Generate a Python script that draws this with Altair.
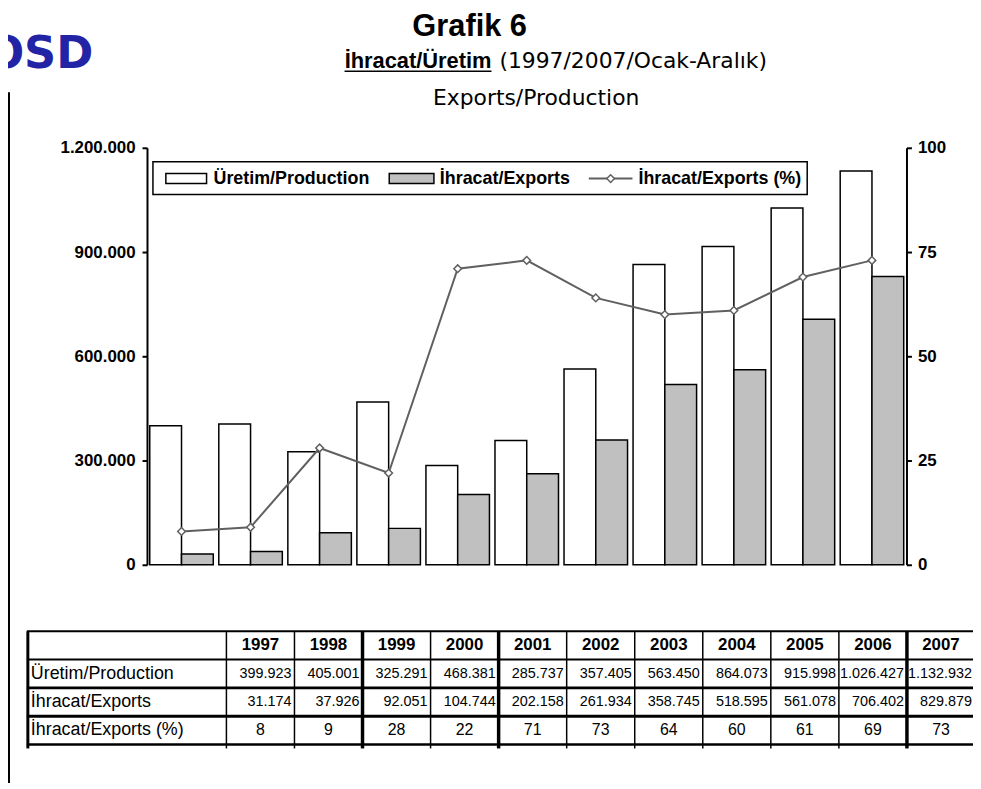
import altair as alt
import pandas as pd

# ---------------- data ----------------
years = ["1997", "1998", "1999", "2000", "2001", "2002", "2003", "2004", "2005", "2006", "2007"]
production = [399923, 405001, 325291, 468381, 285737, 357405, 563450, 864073, 915998, 1026427, 1132932]
exports = [31174, 37926, 92051, 104744, 202158, 261934, 358745, 518595, 561078, 706402, 829879]
export_pct = [8, 9, 28, 22, 71, 73, 64, 60, 61, 69, 73]

series_prod = "Üretim/Production"
series_exp = "İhracat/Exports"
series_pct = "İhracat/Exports (%)"

title_text = "Grafik 6"
subtitle_bold = "İhracat/Üretim"
subtitle_rest = "(1997/2007/Ocak-Aralık)"
subtitle2 = "Exports/Production"
logo_text = "OSD"

left_ticks = [0, 300000, 600000, 900000, 1200000]
right_ticks = [0, 25, 50, 75, 100]

# ---------------- layout ----------------
W, H = 765, 420
OX, OY = 148, 146          # page position of the plot origin


def px(v):
    return v - OX


def py(v):
    return v - OY


def fmt(v):
    return f"{v:,}".replace(",", ".")


AX_FONT = "Liberation Sans"
TB_FONT = "Liberation Sans"

# ---------------- main chart ----------------
bars_df = pd.DataFrame({
    "year": years + years,
    "series": [series_prod] * len(years) + [series_exp] * len(years),
    "value": production + exports,
})
pct_df = pd.DataFrame({"year": years, "pct": export_pct})

x_scale = alt.Scale(domain=years, paddingInner=0.08, paddingOuter=0.04)

axis_style = dict(
    title=None, grid=False, tickSize=5, tickWidth=2, domainWidth=2,
    domainColor="black", tickColor="black", labelColor="black",
    labelFont=AX_FONT, labelFontWeight="bold", labelFontSize=17,
)

bars = alt.Chart(bars_df).mark_bar(stroke="black", strokeWidth=1.5).encode(
    x=alt.X("year:O", scale=x_scale,
            axis=alt.Axis(orient="bottom", labelAngle=0, tickBand="extent",
                          labelPadding=7, **{**axis_style, "tickSize": 6, "labelFontSize": 16})),
    xOffset=alt.XOffset("series:N", sort=[series_prod, series_exp],
                        scale=alt.Scale(domain=[series_prod, series_exp])),
    y=alt.Y("value:Q", scale=alt.Scale(domain=[0, 1200000], nice=False),
            axis=alt.Axis(orient="left", values=left_ticks, labelPadding=7,
                          labelExpr="replace(replace(format(datum.value, ','), ',', '.'), ',', '.')",
                          **axis_style)),
    fill=alt.Fill("series:N", scale=alt.Scale(domain=[series_prod, series_exp],
                                              range=["white", "#c0c0c0"]), legend=None),
)

line = alt.Chart(pct_df).mark_line(color="#606060", strokeWidth=2).encode(
    x=alt.X("year:O", scale=x_scale, axis=None),
    y=alt.Y("pct:Q", scale=alt.Scale(domain=[0, 100], nice=False),
            axis=alt.Axis(orient="right", values=right_ticks, labelPadding=6, **axis_style)),
)
points = alt.Chart(pct_df).mark_point(shape="diamond", filled=True, fill="white",
                                      stroke="#606060", strokeWidth=1.5, size=60,
                                      opacity=1).encode(
    x=alt.X("year:O", scale=x_scale, axis=None),
    y=alt.Y("pct:Q", scale=alt.Scale(domain=[0, 100], nice=False), axis=None),
)

main = alt.layer(bars, line, points).resolve_scale(y="independent")

# ---------------- legend (drawn by hand) ----------------
one = pd.DataFrame({"k": [0]})
leg_box = alt.Chart(one).mark_rect(fill="white", stroke="black", strokeWidth=1.5).encode(
    x=alt.value(6), x2=alt.value(665), y=alt.value(14), y2=alt.value(47))
leg_sw1 = alt.Chart(one).mark_rect(fill="white", stroke="black", strokeWidth=1.5).encode(
    x=alt.value(19), x2=alt.value(60), y=alt.value(26), y2=alt.value(36))
leg_sw2 = alt.Chart(one).mark_rect(fill="#c0c0c0", stroke="black", strokeWidth=1.5).encode(
    x=alt.value(244), x2=alt.value(289), y=alt.value(26), y2=alt.value(36))
leg_ln = alt.Chart(one).mark_rule(color="#606060", strokeWidth=2).encode(
    x=alt.value(445), x2=alt.value(489), y=alt.value(31))
leg_pt = alt.Chart(one).mark_point(shape="diamond", filled=True, fill="white", stroke="#606060",
                                   strokeWidth=1.5, size=60, opacity=1).encode(
    x=alt.value(467), y=alt.value(31))


def leg_text(label, x):
    return alt.Chart(pd.DataFrame({"t": [label]})).mark_text(
        align="left", baseline="middle", font=AX_FONT, fontWeight="bold",
        fontSize=18, color="black").encode(text="t:N", x=alt.value(x), y=alt.value(31))


legend = [leg_box, leg_sw1, leg_sw2, leg_ln, leg_pt,
          leg_text(series_prod, 67), leg_text(series_exp, 295), leg_text(series_pct, 495)]

# ---------------- table ----------------
row_keys = ["hdr", series_prod, series_exp, series_pct]
T_LEFT, T_RIGHT = px(228), px(982)
col_w = (T_RIGHT - T_LEFT) / len(years)
tx = alt.Scale(domain=years, range=[T_LEFT, T_RIGHT], paddingInner=0, paddingOuter=0)
ty = alt.Scale(domain=row_keys, range=[py(633), py(747)], paddingInner=0, paddingOuter=0)

cells = []
for i, yr in enumerate(years):
    cells.append({"year": yr, "row": "hdr", "text": yr})
    cells.append({"year": yr, "row": series_prod, "text": fmt(production[i])})
    cells.append({"year": yr, "row": series_exp, "text": fmt(exports[i])})
    cells.append({"year": yr, "row": series_pct, "text": str(export_pct[i])})
cells_df = pd.DataFrame(cells)

hdr_txt = alt.Chart(cells_df).transform_filter(alt.datum.row == "hdr").mark_text(
    font=TB_FONT, fontWeight="bold", fontSize=17, color="black", baseline="middle").encode(
    x=alt.X("year:O", scale=tx, axis=None), y=alt.Y("row:N", scale=ty, axis=None), text="text:N")
num_txt = alt.Chart(cells_df).transform_filter(
    alt.FieldOneOfPredicate(field="row", oneOf=[series_prod, series_exp])).mark_text(
    font=TB_FONT, fontSize=14.5, color="black", align="right", baseline="middle",
    dx=col_w / 2 - 3).encode(
    x=alt.X("year:O", scale=tx, axis=None),
    y=alt.Y("row:N", scale=ty, axis=None), text="text:N")
pct_txt = alt.Chart(cells_df).transform_filter(alt.datum.row == series_pct).mark_text(
    font=TB_FONT, fontSize=16, color="black", baseline="middle").encode(
    x=alt.X("year:O", scale=tx, axis=None), y=alt.Y("row:N", scale=ty, axis=None), text="text:N")

lab_df = pd.DataFrame({"row": row_keys[1:]})
lab_txt = alt.Chart(lab_df).mark_text(
    font=TB_FONT, fontSize=18, color="black", align="left", baseline="middle").encode(
    x=alt.value(px(31)), y=alt.Y("row:N", scale=ty, axis=None), text="row:N")

hl_df = pd.DataFrame({"row": row_keys})
h_rules = alt.Chart(hl_df).mark_rule(color="black").encode(
    y=alt.Y("row:N", scale=ty, axis=None, bandPosition=0),
    x=alt.value(px(27)), x2=alt.value(px(990)),
    strokeWidth=alt.condition(
        alt.FieldOneOfPredicate(field="row", oneOf=[series_exp, series_pct]),
        alt.value(3), alt.value(2)),
)
h_bottom = alt.Chart(hl_df).transform_filter(alt.datum.row == series_pct).mark_rule(
    color="black", strokeWidth=2.5).encode(
    y=alt.Y("row:N", scale=ty, axis=None, bandPosition=1),
    x=alt.value(px(27)), x2=alt.value(px(990)))

vl_df = pd.DataFrame({"year": years})
v_rules = alt.Chart(vl_df).mark_rule(color="black").encode(
    x=alt.X("year:O", scale=tx, axis=None, bandPosition=0),
    y=alt.value(py(633)), y2=alt.value(py(751)),
    strokeWidth=alt.condition(
        alt.FieldOneOfPredicate(field="year", oneOf=["1999", "2001", "2007"]),
        alt.value(3.5), alt.value(1.5)),
)
v_left = alt.Chart(one).mark_rule(color="black", strokeWidth=3).encode(
    x=alt.value(px(28)), y=alt.value(py(633)), y2=alt.value(py(751)))

table = [h_rules, h_bottom, v_rules, v_left, hdr_txt, num_txt, pct_txt, lab_txt]

# ---------------- headings, logo, page rule ----------------


def txt(label, x, y, font, size, weight="normal", align="center", color="black"):
    return alt.Chart(pd.DataFrame({"t": [label]})).mark_text(
        align=align, baseline="alphabetic", font=font, fontSize=size,
        fontWeight=weight, color=color).encode(text="t:N", x=alt.value(x), y=alt.value(y))


heads = [
    txt(title_text, px(473), py(33), "Liberation Sans", 31, "bold"),
    txt(subtitle_bold, px(495), py(66), "Liberation Sans", 22, "bold", align="right"),
    txt(subtitle_rest, px(503), py(66), "DejaVu Sans", 22, align="left"),
    txt(subtitle2, px(540), py(103), "DejaVu Sans", 22),
    txt(logo_text, px(-14), py(66), "DejaVu Sans", 45, "bold", align="left", color="#2323a6"),
    alt.Chart(one).mark_rule(color="black", strokeWidth=1.5).encode(
        x=alt.value(px(347)), x2=alt.value(px(495)), y=alt.value(py(69))),
    alt.Chart(one).mark_rule(color="black", strokeWidth=2).encode(
        x=alt.value(px(9)), y=alt.value(py(90)), y2=alt.value(py(800))),
]

chart = alt.layer(main, *legend, *table, *heads).resolve_scale(
    x="independent", y="independent"
).properties(
    width=W, height=H,
    padding={"left": OX - 8, "top": OY - 8, "right": 972 - (OX - 8) - W, "bottom": 775 - (OY - 8) - H},
    autosize=alt.AutoSizeParams(type="none"),
    background="white",
).configure_view(stroke=None)

chart.save("out.html", embed_options={"renderer": "svg", "actions": False})
